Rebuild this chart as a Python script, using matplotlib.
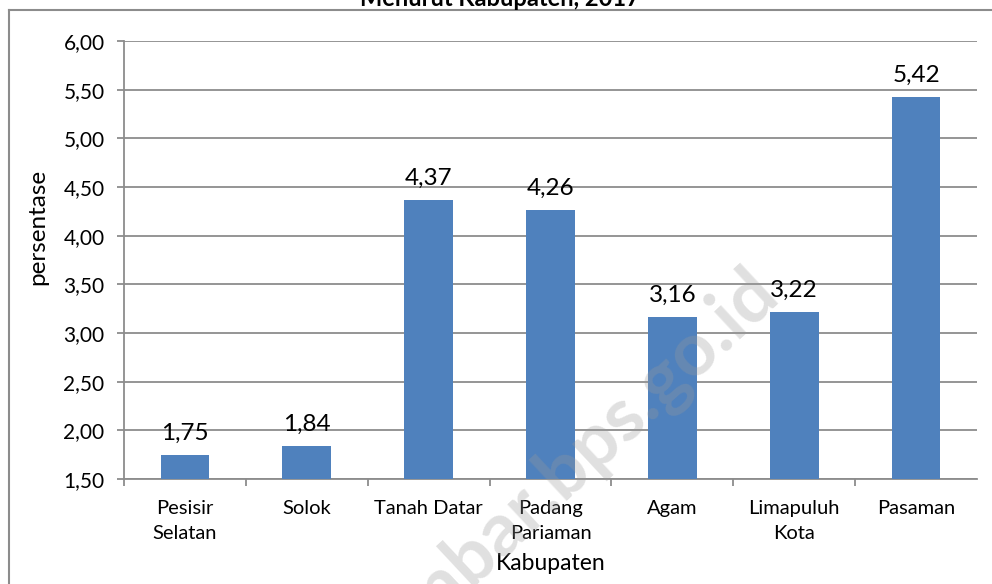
import matplotlib
matplotlib.use("Agg")
import matplotlib.pyplot as plt
from matplotlib.lines import Line2D

categories = ["Pesisir\nSelatan", "Solok", "Tanah Datar", "Padang\nPariaman", "Agam", "Limapuluh\nKota", "Pasaman"]
values = [1.75, 1.84, 4.37, 4.26, 3.16, 3.22, 5.42]
value_labels = ["1,75", "1,84", "4,37", "4,26", "3,16", "3,22", "5,42"]
yticks = [1.5, 2.0, 2.5, 3.0, 3.5, 4.0, 4.5, 5.0, 5.5, 6.0]
ytick_labels = ["1,50", "2,00", "2,50", "3,00", "3,50", "4,00", "4,50", "5,00", "5,50", "6,00"]
title = "Menurut Kabupaten, 2017"

plt.rcParams['font.family'] = ['Lato', 'DejaVu Sans']
W, H = 992, 584
fig = plt.figure(figsize=(W/100, H/100), dpi=100)

def px(x0, y0, x1, y1):
    return [x0/W, 1 - y1/H, (x1-x0)/W, (y1-y0)/H]

ax = fig.add_axes(px(124, 41, 977, 479))
grey = "#8c8c8c"
x = list(range(len(categories)))
ax.bar(x, values, width=0.40, color="#4F81BD", zorder=3)
ax.set_xlim(-0.5, len(categories)-0.5)
ax.set_ylim(1.5, 6.0)
ax.set_yticks(yticks)
ax.set_yticklabels(ytick_labels, fontsize=15)
ax.yaxis.grid(True, color=grey, linewidth=1.3, zorder=0)
ax.set_axisbelow(True)
for s in ["top", "right"]:
    ax.spines[s].set_visible(False)
for s in ["left", "bottom"]:
    ax.spines[s].set_color(grey)
    ax.spines[s].set_linewidth(1.3)
ax.tick_params(axis='y', length=5, width=1.3, color=grey, pad=9)
ax.set_xticks([i + 0.5 for i in range(len(categories)-1)] + [-0.5])
ax.tick_params(axis='x', which='major', length=5, width=1.3, color=grey, labelbottom=False)
ax.set_xticks(x, minor=True)
ax.set_xticklabels(categories, minor=True, fontsize=14.5, linespacing=1.55)
ax.tick_params(axis='x', which='minor', length=0, pad=15)

for xi, v, lab in zip(x, values, value_labels):
    ax.annotate(lab, (xi, v), xytext=(0, 8), textcoords="offset points",
                ha="center", va="bottom", fontsize=17.5)

ax.set_ylabel("persentase", fontsize=17.5)
ax.yaxis.set_label_coords(-0.089, 0.575)
ax.set_xlabel("Kabupaten", fontsize=16.5)
ax.xaxis.set_label_coords(0.5, -0.168)

# figure frame (partially visible)
fig.add_artist(Line2D([9/W, 1], [1-10/H, 1-10/H], color=grey, linewidth=1.5, transform=fig.transFigure))
fig.add_artist(Line2D([9/W, 9/W], [1-10/H, 0], color=grey, linewidth=1.5, transform=fig.transFigure))

# title, cropped at top
fig.text(500/W, 1-6/H, title, ha="center", va="baseline", fontsize=17, fontweight="bold")

# watermark
fig.text(562/W, 1-476/H, "sumbar.bps.go.id", rotation=43, ha="center", va="center",
         rotation_mode="anchor", fontsize=54, fontweight="bold", color="#9a9a9a", alpha=0.30, zorder=10)

fig.savefig("out.png", dpi=100)
